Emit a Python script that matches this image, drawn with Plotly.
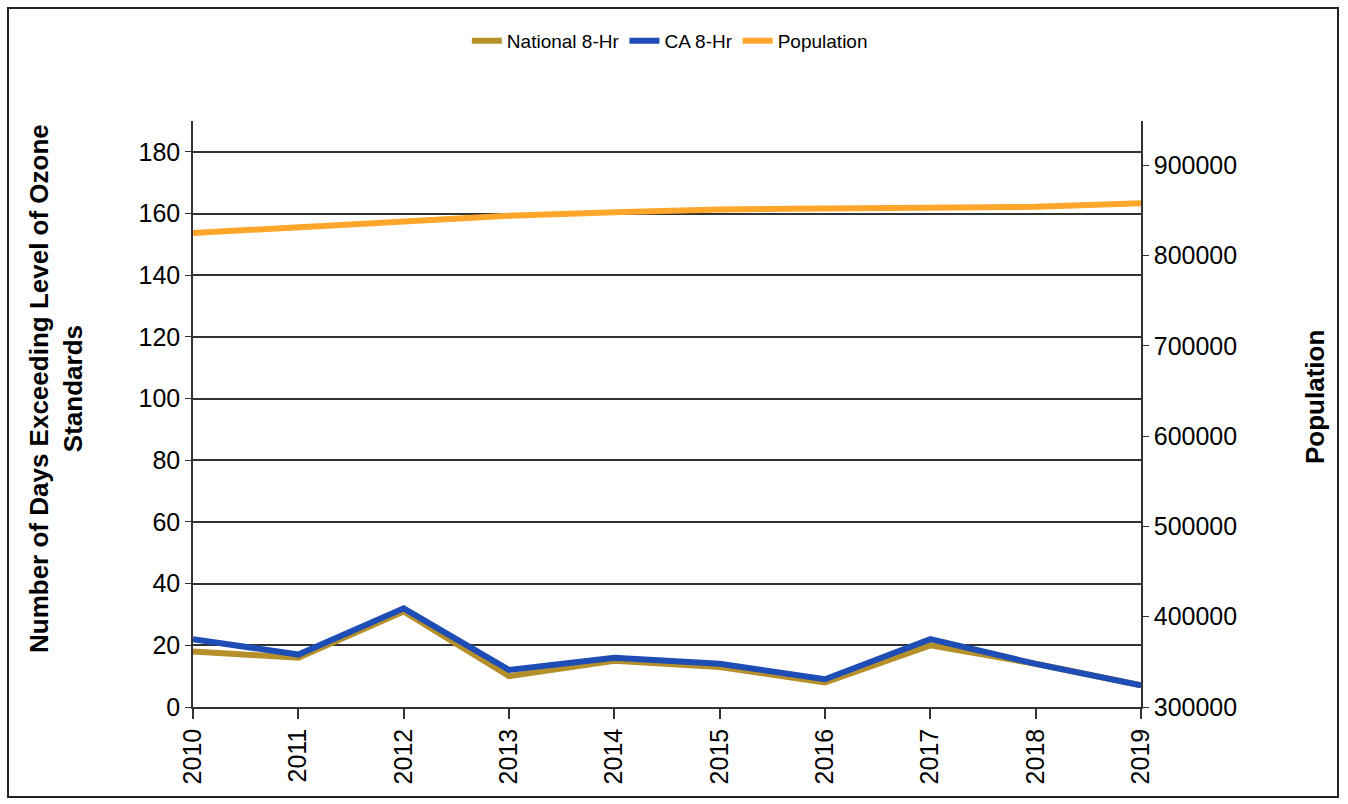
import plotly.graph_objects as go

years = [2010, 2011, 2012, 2013, 2014, 2015, 2016, 2017, 2018, 2019]
national_8hr = [18, 16, 31, 10, 15, 13, 8, 20, 14, 7]
ca_8hr = [22, 17, 32, 12, 16, 14, 9, 22, 14, 7]
population = [825000, 831000, 837000, 844000, 848000, 851000, 852000, 853000, 854000, 858000]

left_ticks = [0, 20, 40, 60, 80, 100, 120, 140, 160, 180]
right_ticks = [300000, 400000, 500000, 600000, 700000, 800000, 900000]

FONT = "Liberation Sans, Arial, sans-serif"

fig = go.Figure()
fig.add_trace(go.Scatter(x=years, y=national_8hr, name="National 8-Hr", mode="lines",
                         line=dict(color="#B48F2A", width=6), cliponaxis=False))
fig.add_trace(go.Scatter(x=years, y=ca_8hr, name="CA 8-Hr", mode="lines",
                         line=dict(color="#1E4DB5", width=6), cliponaxis=False))
fig.add_trace(go.Scatter(x=years, y=population, name="Population", mode="lines", yaxis="y2",
                         line=dict(color="#FFA62B", width=6), cliponaxis=False))

fig.update_layout(
    width=1348, height=804,
    margin=dict(l=193, r=207, t=121, b=97),
    paper_bgcolor="white", plot_bgcolor="white",
    font=dict(family=FONT, color="black", size=25),
    showlegend=True,
    legend=dict(orientation="h", x=0.503, xanchor="center", y=1.1365, yanchor="middle",
                font=dict(size=19), bgcolor="rgba(0,0,0,0)",
                traceorder="normal"),
    xaxis=dict(range=[2010, 2019], tickvals=years, ticktext=[str(y) for y in years],
               tickangle=-90, showgrid=False, zeroline=False, showline=True,
               linecolor="#333", linewidth=1.5, ticks="outside", ticklen=10,
               tickcolor="#333", tickwidth=1.5, tickfont=dict(size=25)),
    yaxis=dict(range=[0, 190], tickvals=left_ticks, showgrid=True, gridcolor="#333",
               gridwidth=1.5, zeroline=False, showline=True, linecolor="#333",
               linewidth=1.5, ticks="outside", ticklen=6, tickcolor="#333",
               tickfont=dict(size=25)),
    yaxis2=dict(range=[300000, 949000], tickvals=right_ticks, tickformat="d",
                overlaying="y", side="right",
                showgrid=False, zeroline=False, showline=True, linecolor="#333",
                linewidth=1.5, ticks="outside", ticklen=6, tickcolor="#333",
                tickfont=dict(size=25)),
)

fig.add_annotation(text="<b>Number of Days Exceeding Level of Ozone<br>Standards</b>",
                   xref="paper", yref="paper", x=(56 - 193) / 948, y=(707 - 389) / 586,
                   textangle=-90, showarrow=False, font=dict(size=26),
                   xanchor="center", yanchor="middle")
fig.add_annotation(text="<b>Population</b>", xref="paper", yref="paper",
                   x=(1315 - 193) / 948, y=(707 - 397) / 586, textangle=-90,
                   showarrow=False, font=dict(size=26), xanchor="center", yanchor="middle")

fig.add_shape(type="rect", xref="paper", yref="paper",
              x0=(8 - 193) / 948, x1=(1338 - 193) / 948,
              y0=(707 - 797) / 586, y1=(707 - 8) / 586,
              line=dict(color="#222", width=2), fillcolor="rgba(0,0,0,0)", layer="below")

fig.write_html("out.html")
